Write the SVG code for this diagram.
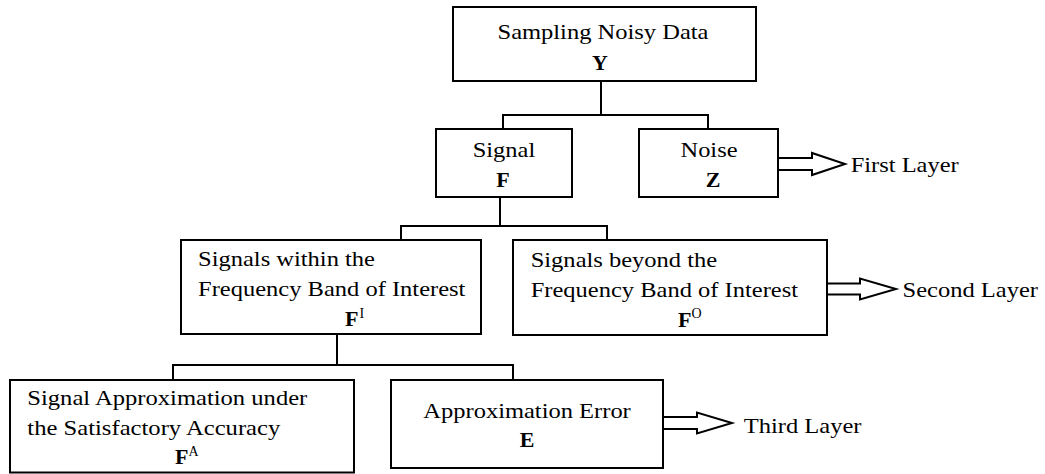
<svg xmlns="http://www.w3.org/2000/svg" width="1045" height="474" viewBox="0 0 1045 474">
<style>
.box{fill:#fff;stroke:#000;stroke-width:2}
.ln{fill:none;stroke:#000;stroke-width:2}
.arr{fill:#fff;stroke:#000;stroke-width:2;stroke-linejoin:miter}
text{font-family:"Liberation Serif","Times New Roman",serif;font-size:22px;fill:#000}
.b{font-weight:bold}
.sup{font-size:14px}
.m{text-anchor:middle}
</style>
<rect width="1045" height="474" fill="#fff"/>
<g id="connectors">
<path class="ln" d="M601,81V115M503,129V115H708V129"/>
<path class="ln" d="M500,197V226M401,240V226H607V240"/>
<path class="ln" d="M337,334V365M173,380V365H513V380"/>
<polygon class="arr" points="778,158 812,158 812,153 845,164 812,175 812,170 778,170"/>
<polygon class="arr" points="827,283.5 860,283.5 860,278.5 896,289 860,299.5 860,294.5 827,294.5"/>
<polygon class="arr" points="663,417 697,417 697,412.5 732,423 697,433.5 697,429 663,429"/>
</g>
<g id="node-Y">
<rect class="box" x="453" y="7" width="303" height="74"/>
<text class="m" x="603" y="39" textLength="211" lengthAdjust="spacingAndGlyphs">Sampling Noisy Data</text>
<text class="b m" x="600" y="70">Y</text>
</g>
<g id="node-F">
<rect class="box" x="436" y="129" width="136" height="68"/>
<text class="m" x="504" y="157" textLength="62.6" lengthAdjust="spacingAndGlyphs">Signal</text>
<text class="b m" x="503" y="187">F</text>
</g>
<g id="node-Z">
<rect class="box" x="639" y="129" width="139" height="68"/>
<text class="m" x="709" y="157" textLength="57" lengthAdjust="spacingAndGlyphs">Noise</text>
<text class="b m" x="713" y="187">Z</text>
</g>
<g id="node-FI">
<rect class="box" x="181" y="240" width="300" height="94"/>
<text x="198" y="266" textLength="177" lengthAdjust="spacingAndGlyphs">Signals within the</text>
<text x="198" y="296" textLength="267.4" lengthAdjust="spacingAndGlyphs">Frequency Band of Interest</text>
<text x="345" y="326"><tspan class="b">F</tspan><tspan class="sup" dx="1" dy="-8">I</tspan></text>
</g>
<g id="node-FO">
<rect class="box" x="513" y="240" width="314" height="95"/>
<text x="530.7" y="267" textLength="186.5" lengthAdjust="spacingAndGlyphs">Signals beyond the</text>
<text x="530.7" y="297" textLength="267.4" lengthAdjust="spacingAndGlyphs">Frequency Band of Interest</text>
<text x="678" y="327"><tspan class="b">F</tspan><tspan class="sup" dx="0" dy="-9">O</tspan></text>
</g>
<g id="node-FA">
<rect class="box" x="10" y="380" width="344" height="92.5"/>
<text x="27.3" y="405" textLength="280" lengthAdjust="spacingAndGlyphs">Signal Approximation under</text>
<text x="27.3" y="435" textLength="253" lengthAdjust="spacingAndGlyphs">the Satisfactory Accuracy</text>
<text x="175" y="464"><tspan class="b">F</tspan><tspan class="sup" dx="0" dy="-8">A</tspan></text>
</g>
<g id="node-E">
<rect class="box" x="391" y="380" width="272" height="88"/>
<text x="423.3" y="418" textLength="207.5" lengthAdjust="spacingAndGlyphs">Approximation Error</text>
<text class="b m" x="527" y="447">E</text>
</g>
<g id="layer-labels">
<text x="850.7" y="171.5" textLength="108" lengthAdjust="spacingAndGlyphs">First Layer</text>
<text x="902.6" y="297" textLength="135.4" lengthAdjust="spacingAndGlyphs">Second Layer</text>
<text x="743.8" y="433" textLength="117.7" lengthAdjust="spacingAndGlyphs">Third Layer</text>
</g>
</svg>
